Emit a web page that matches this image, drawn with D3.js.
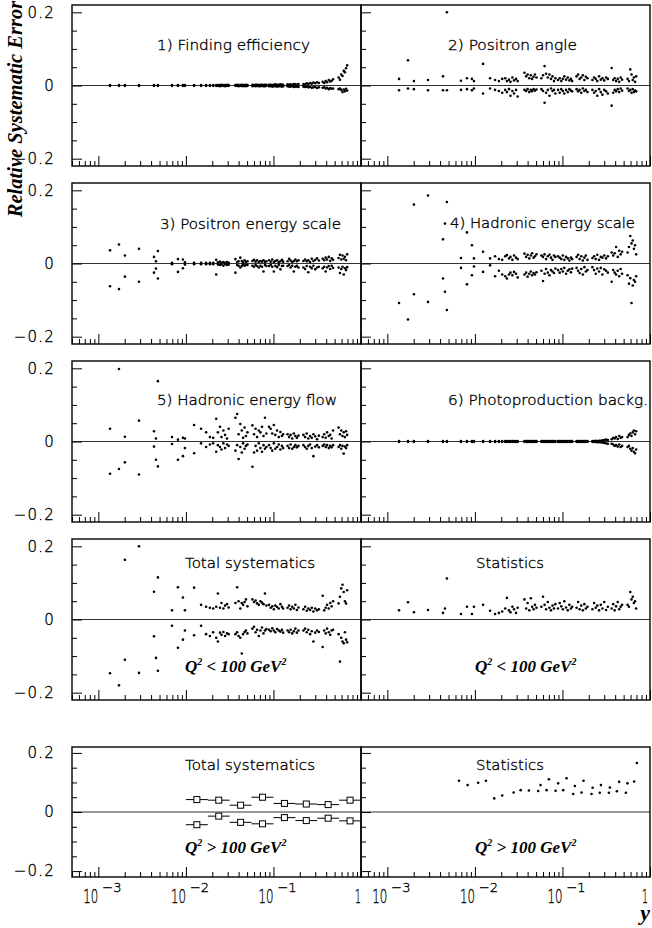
<!DOCTYPE html>
<html>
<head>
<meta charset="utf-8">
<script src="https://cdn.jsdelivr.net/npm/d3@7"></script>
<style>
  body { margin: 0; background: #fff; }
  svg { display: block; }
</style>
</head>
<body>
<svg id="chart" width="652" height="928"></svg>
<script>
// ---- y of each measurement bin (shared by the Q2 < 100 GeV2 panels) ----
const yBins = [
  0.00136, 0.00172, 0.00201, 0.00291, 0.00432, 0.00455, 0.00479, 0.00693,
  0.00811, 0.00925, 0.00975, 0.0124, 0.0149, 0.0170, 0.0188, 0.0205,
  0.0222, 0.0232, 0.0245, 0.0255, 0.0268, 0.0280, 0.0295, 0.0308,
  0.0368, 0.0385, 0.0400, 0.0418, 0.0435, 0.0450, 0.0468, 0.0485, 0.0505,
  0.0575, 0.0600, 0.0625, 0.0650, 0.0680, 0.0710, 0.0740, 0.0770, 0.0800, 0.0830,
  0.0890, 0.0930, 0.0970, 0.1010, 0.1050, 0.1100, 0.1150, 0.1200, 0.1250, 0.1290,
  0.1450, 0.1510, 0.1570, 0.1640, 0.1710, 0.1780, 0.1850, 0.1930,
  0.2200, 0.2300, 0.2400, 0.2500, 0.2620, 0.2740, 0.2860, 0.3000, 0.3150, 0.3300,
  0.3650, 0.3800, 0.3950, 0.4100, 0.4280, 0.4450, 0.4620, 0.4800,
  0.5550, 0.5750, 0.5950, 0.6150, 0.6350, 0.6550, 0.6750, 0.6950
];

// 1) Finding efficiency
const findingUp = [
  .001,.001,.001,.001,.001,null,.001,.001,.001,.001,.001,.001,.001,.001,.001,.001,
  .001,.001,.001,.002,.001,.001,.002,.001,
  .001,.002,.001,.001,.002,.001,.001,.002,.001,
  .002,.001,.002,.002,.001,.002,.002,.001,.002,.002,
  .002,.002,.001,.002,.003,.002,.002,.003,.002,.002,
  .003,.002,.003,.002,.004,.003,.002,.004,
  .004,.003,.006,.004,.007,.005,.008,.006,.009,.007,
  .010,.007,.012,.009,.015,.011,.013,.017,
  .022,.016,.030,.026,.040,.036,.047,.055
];
const findingDown = [
  -.001,-.001,-.001,-.001,-.001,null,-.001,-.001,-.001,-.001,-.001,-.001,-.001,-.001,-.001,-.001,
  -.001,-.001,-.002,-.001,-.001,-.002,-.001,-.001,
  -.001,-.001,-.002,-.001,-.001,-.002,-.001,-.002,-.001,
  -.002,-.001,-.002,-.001,-.002,-.002,-.001,-.002,-.002,-.001,
  -.002,-.002,-.003,-.002,-.002,-.003,-.002,-.002,-.003,-.002,
  -.002,-.003,-.003,-.002,-.004,-.003,-.003,-.004,
  -.003,-.004,-.003,-.005,-.004,-.006,-.005,-.004,-.007,-.005,
  -.006,-.005,-.008,-.006,-.010,-.007,-.009,-.008,
  -.010,-.008,-.012,-.018,-.011,-.016,-.009,-.014
];

// 2) Positron angle
const posAngleUp = [
  .018,.069,.012,.015,.025,null,.200,.013,.020,.018,.012,.059,.020,.015,.012,.018,
  .020,.012,.016,.010,.022,.014,.018,.012,
  .035,.025,.030,.020,.028,.018,.024,.030,.022,
  .020,.028,.053,.032,.022,.030,.018,.025,.012,.020,
  .015,.020,.012,.018,.025,.016,.022,.014,.018,.012,
  .025,.030,.018,.022,.028,.015,.024,.020,
  .015,.022,.018,.012,.025,.016,.020,.014,.022,.018,
  .048,.015,.020,.012,.018,.010,.022,.016,
  .018,.012,.044,.030,.015,.022,.010,.025
];
const posAngleDown = [
  -.013,-.008,-.010,-.013,-.013,null,-.013,-.012,-.010,-.013,-.008,-.022,-.008,-.012,-.015,-.020,
  -.012,-.018,-.010,-.028,-.015,-.022,-.012,-.030,
  -.012,-.015,-.010,-.018,-.012,-.016,-.010,-.014,-.011,
  -.010,-.015,-.047,-.020,-.012,-.028,-.008,-.015,-.012,-.022,
  -.012,-.020,-.010,-.015,-.022,-.012,-.018,-.010,-.014,-.016,
  -.010,-.016,-.012,-.020,-.008,-.015,-.012,-.018,
  -.012,-.020,-.015,-.028,-.010,-.018,-.025,-.012,-.016,-.022,
  -.055,-.020,-.012,-.016,-.010,-.018,-.008,-.014,
  -.008,-.015,-.012,-.020,-.010,-.018,-.014,-.016
];

// 3) Positron energy scale
const posEnergyUp = [
  .036,.052,.022,.040,.018,.006,.034,.002,.012,.011,.003,.002,.002,.002,.002,.002,
  .010,.003,.005,.002,.004,.002,.004,.002,
  .012,.004,.006,.016,.007,.003,.009,.004,.006,
  .007,.010,.005,.009,.004,.007,.005,.009,.004,.006,
  .009,.005,.011,.004,.007,.009,.003,.006,.010,.005,
  .006,.013,.008,.004,.007,.011,.006,.009,
  .007,.011,.006,.009,.004,.013,.007,.010,.014,.008,
  .013,.009,.016,.011,.018,.007,.014,.010,
  .015,.024,.011,.022,.013,.018,.009,.025
];
const posEnergyDown = [
  -.062,-.070,-.036,-.050,-.025,-.014,-.041,-.002,-.023,-.013,-.003,-.002,-.002,-.002,-.002,-.002,
  -.030,-.003,-.004,-.002,-.006,-.002,-.004,-.003,
  -.025,-.004,-.006,-.011,-.007,-.003,-.006,-.004,-.004,
  -.006,-.009,-.004,-.007,-.011,-.006,-.009,-.022,-.004,-.007,
  -.007,-.004,-.009,-.022,-.006,-.010,-.004,-.016,-.007,-.006,
  -.007,-.004,-.011,-.006,-.022,-.009,-.006,-.011,
  -.011,-.015,-.007,-.024,-.009,-.013,-.006,-.016,-.011,-.009,
  -.013,-.009,-.022,-.011,-.007,-.015,-.006,-.012,
  -.011,-.026,-.015,-.009,-.030,-.013,-.018,-.010
];

// 4) Hadronic energy scale
const hadScaleUp = [
  null,null,.161,.186,.066,.109,.168,.015,.085,.050,.014,.032,.014,.020,.012,.010,
  .020,.023,.014,.018,.010,.022,.016,.012,
  .027,.018,.024,.014,.022,.028,.016,.020,.025,
  .022,.018,.025,.012,.020,.024,.016,.010,.022,.018,
  .020,.016,.012,.022,.010,.018,.014,.008,.016,.012,
  .018,.024,.012,.020,.008,.016,.022,.010,
  .015,.020,.012,.024,.010,.018,.016,.022,.014,.020,
  .030,.022,.028,.045,.018,.035,.025,.032,
  .030,.045,.075,.055,.063,.040,.050,.025
];
const hadScaleDown = [
  -.108,-.153,-.084,-.105,-.041,-.077,-.127,-.012,-.057,-.032,-.008,-.023,-.005,-.035,-.020,-.030,
  -.035,-.041,-.030,-.025,-.032,-.023,-.028,-.038,
  -.030,-.025,-.036,-.028,-.022,-.032,-.026,-.030,-.024,
  -.020,-.048,-.028,-.015,-.025,-.032,-.018,-.022,-.026,-.014,
  -.018,-.025,-.015,-.022,-.012,-.028,-.020,-.016,-.024,-.014,
  -.012,-.020,-.026,-.015,-.030,-.010,-.022,-.018,
  -.010,-.018,-.028,-.014,-.022,-.012,-.030,-.016,-.020,-.025,
  -.050,-.018,-.025,-.030,-.020,-.035,-.015,-.028,
  -.032,-.055,-.040,-.108,-.060,-.045,-.050,-.035
];

// 5) Hadronic energy flow
const hadFlowUp = [
  .035,.198,.013,.057,.028,.008,.165,.012,.005,.010,.008,.045,.035,.025,.012,.010,
  .062,.025,.040,.012,.030,.018,.008,.035,
  .065,.075,.020,.048,.030,.010,.038,.015,.025,
  .044,.020,.035,.012,.030,.025,.040,.015,.065,.022,
  .040,.035,.022,.045,.018,.030,.012,.026,.015,.020,
  .020,.012,.018,.008,.022,.015,.010,.016,
  .018,.012,.022,.008,.015,.010,.020,.014,.006,.016,
  .012,.020,.010,.025,.015,.018,.008,.030,
  .038,.020,.030,.015,.025,.012,.028,.018
];
const hadFlowDown = [
  -.088,-.075,-.057,-.090,-.014,-.050,-.068,-.007,-.050,-.040,-.018,-.032,-.005,-.015,-.008,-.005,
  -.028,-.010,-.015,-.022,-.005,-.018,-.008,-.012,
  -.025,-.010,-.048,-.015,-.030,-.005,-.020,-.012,-.008,
  -.069,-.030,-.012,-.025,-.005,-.018,-.028,-.010,-.020,-.015,
  -.010,-.018,-.025,-.005,-.020,-.015,-.008,-.022,-.012,-.018,
  -.012,-.018,-.008,-.020,-.015,-.010,-.016,-.012,
  -.010,-.015,-.020,-.012,-.008,-.018,-.040,-.014,-.010,-.016,
  -.012,-.008,-.015,-.010,-.018,-.012,-.016,-.010,
  -.015,-.010,-.020,-.012,-.033,-.014,-.018,-.010
];

// 6) Photoproduction background
const photoUp = [
  .001,.001,.001,.001,.001,null,.001,.001,.001,.001,.001,.001,.001,.001,.001,.001,
  .001,.001,.001,.001,.001,.001,.001,.001,
  .001,.001,.001,.001,.001,.001,.001,.001,.001,
  .001,.001,.001,.001,.001,.001,.001,.001,.001,.001,
  .001,.001,.001,.001,.001,.001,.001,.001,.001,.001,
  .001,.001,.001,.001,.001,.001,.001,.001,
  .001,.001,.002,.001,.002,.002,.003,.004,.005,.004,
  .006,.010,.008,.012,.007,.015,.010,.012,
  .012,.018,.022,.015,.025,.030,.020,.028
];
const photoDown = [
  -.001,-.001,-.001,-.001,-.001,null,-.001,-.001,-.001,-.001,-.001,-.001,-.001,-.001,-.001,-.001,
  -.001,-.001,-.001,-.001,-.001,-.001,-.001,-.001,
  -.001,-.001,-.001,-.001,-.001,-.001,-.001,-.001,-.001,
  -.001,-.001,-.001,-.001,-.001,-.001,-.001,-.001,-.001,-.001,
  -.001,-.001,-.001,-.001,-.001,-.001,-.001,-.001,-.001,-.001,
  -.001,-.001,-.001,-.001,-.001,-.001,-.001,-.001,
  -.001,-.001,-.001,-.002,-.002,-.002,-.003,-.004,-.005,-.006,
  -.006,-.008,-.012,-.010,-.014,-.008,-.015,-.012,
  -.015,-.012,-.020,-.025,-.018,-.028,-.032,-.022
];

// Total systematics, Q2 < 100 GeV2
const totalLoUp = [
  null,null,.163,.200,.076,null,.115,.025,.088,.060,.025,.087,.040,.035,.032,.030,
  .035,.071,.032,.045,.030,.038,.042,.033,
  .045,.088,.050,.030,.045,.040,.048,.055,.036,
  .055,.048,.052,.044,.040,.050,.046,.042,.071,.038,
  .040,.032,.036,.028,.038,.034,.030,.042,.035,.030,
  .032,.038,.028,.035,.030,.040,.026,.033,
  .028,.035,.024,.030,.026,.032,.022,.030,.025,.028,
  .065,.025,.032,.040,.030,.045,.036,.050,
  .044,.062,.085,.095,.075,.050,.044,.080
];
const totalLoDown = [
  -.147,-.180,-.110,-.146,-.046,-.105,-.140,-.017,-.077,-.055,-.030,-.043,-.017,-.040,-.045,-.035,
  -.050,-.060,-.036,-.042,-.034,-.045,-.038,-.040,
  -.040,-.035,-.045,-.050,-.093,-.040,-.034,-.030,-.038,
  -.025,-.020,-.035,-.028,-.045,-.030,-.022,-.038,-.030,-.026,
  -.028,-.032,-.024,-.030,-.035,-.026,-.030,-.033,-.028,-.036,
  -.030,-.035,-.028,-.038,-.032,-.025,-.036,-.030,
  -.030,-.025,-.035,-.028,-.040,-.032,-.060,-.036,-.030,-.034,
  -.075,-.030,-.038,-.025,-.035,-.042,-.030,-.028,
  -.040,-.115,-.050,-.060,-.065,-.035,-.055,-.062
];

// Statistics, Q2 < 100 GeV2
const statLo = [
  .025,.047,.020,.026,.018,.030,.112,.015,.035,.015,.035,.040,.024,.015,.018,.022,
  .030,.059,.025,.020,.035,.028,.018,.032,
  .055,.030,.045,.025,.058,.035,.028,.040,.032,
  .035,.062,.040,.028,.048,.032,.025,.038,.030,.042,
  .030,.045,.036,.028,.050,.033,.025,.040,.030,.035,
  .032,.048,.028,.038,.025,.042,.030,.035,
  .028,.045,.032,.038,.025,.040,.030,.048,.026,.035,
  .030,.042,.025,.036,.048,.028,.035,.040,
  .040,.035,.075,.055,.062,.045,.050,.030
];

// Total systematics, Q2 > 100 GeV2 (quarter-decade bins in y)
const hiBinEdges = [0.01, 0.0178, 0.0316, 0.0562, 0.1, 0.178, 0.316, 0.562, 1.0];
const totalHiUp   = [0.042, 0.040, 0.023, 0.050, 0.029, 0.027, 0.025, 0.040];
const totalHiDown = [-0.043, -0.014, -0.035, -0.040, -0.019, -0.029, -0.021, -0.030];

// Statistics, Q2 > 100 GeV2
const statHiY = [
  0.00658, 0.00826, 0.0109, 0.01337, 0.01663, 0.0205, 0.0277, 0.0333, 0.0414,
  0.0528, 0.0562, 0.0659, 0.070, 0.0835, 0.0893, 0.102, 0.1114, 0.1327, 0.1387,
  0.1652, 0.174, 0.215, 0.221, 0.267, 0.275, 0.339, 0.348, 0.418, 0.444,
  0.530, 0.553, 0.659, 0.708
];
const statHiVal = [
  0.106, 0.091, 0.099, 0.106, 0.046, 0.056, 0.066, 0.074, 0.073,
  0.071, 0.091, 0.074, 0.111, 0.072, 0.097, 0.074, 0.114, 0.061, 0.088,
  0.066, 0.106, 0.061, 0.082, 0.065, 0.091, 0.065, 0.083, 0.070, 0.102,
  0.065, 0.097, 0.103, 0.166
];

// Axis ticks and labels
const yMajorTicks = [-0.2, 0, 0.2];
const yMinorTicks = [-0.15, -0.1, -0.05, 0.05, 0.1, 0.15];
const yTickLabels = ["\u22120.2", "0", "0.2"];
const xDecades = [0.001, 0.01, 0.1, 1];
const xLabelBase = ["10", "10", "10", "1"];
const xLabelExp = ["\u22123", "\u22122", "\u22121", ""];

// ---------------- drawing ----------------
const svg = d3.select("#chart");
const PW = 289;
const colX = [72, 361];
const rows = [
  { top: 5,   h: 161 },
  { top: 183, h: 161 },
  { top: 361, h: 161 },
  { top: 539, h: 161 },
  { top: 747, h: 130 }
];
const SANS = "'DejaVu Sans', sans-serif";
const SERIF = "'Liberation Serif', 'Times New Roman', serif";

// thin sans text, darkened with a hairline outline
function thinText(sel, size) {
  return sel.attr("font-family", SANS).attr("font-size", size).attr("font-weight", 200)
    .attr("fill", "#000").attr("stroke", "#000").attr("stroke-width", 0.35);
}

function pairsOf(ys, vals) {
  const out = [];
  vals.forEach((v, i) => { if (v !== null) out.push([ys[i], v]); });
  return out;
}

function makePanel(row, col) {
  const x0 = colX[col], r = rows[row];
  const x = d3.scaleLog().domain([5e-4, 1]).range([x0, x0 + PW]);
  const y = d3.scaleLinear().domain([-0.22, 0.22]).range([r.top + r.h, r.top]);
  const g = svg.append("g");

  // zero line
  g.append("line")
    .attr("x1", x0).attr("x2", x0 + PW)
    .attr("y1", y(0)).attr("y2", y(0))
    .attr("stroke", "#333").attr("stroke-width", 1);

  // y ticks, pointing inward from the left edge
  g.append("g").attr("transform", `translate(${x0},0)`)
    .call(d3.axisRight(y).tickValues(yMajorTicks).tickSize(10).tickFormat(""));
  g.append("g").attr("transform", `translate(${x0},0)`)
    .call(d3.axisRight(y).tickValues(yMinorTicks).tickSize(5).tickFormat(""));

  // x ticks, pointing up from the bottom edge
  const minorX = x.ticks().filter(t => !xDecades.some(d => Math.abs(d - t) / d < 1e-6));
  g.append("g").attr("transform", `translate(0,${r.top + r.h})`)
    .call(d3.axisTop(x).tickValues(xDecades).tickSize(10).tickFormat(""));
  g.append("g").attr("transform", `translate(0,${r.top + r.h})`)
    .call(d3.axisTop(x).tickValues(minorX).tickSize(5).tickFormat(""));

  g.selectAll(".domain").remove();
  g.selectAll(".tick line").attr("stroke", "#000").attr("stroke-width", 1);

  // frame
  g.append("rect")
    .attr("x", x0).attr("y", r.top).attr("width", PW).attr("height", r.h)
    .attr("fill", "none").attr("stroke", "#000").attr("stroke-width", 1.4);

  // y tick labels on the left column only
  if (col === 0) {
    thinText(g.append("g").selectAll("text").data(yMajorTicks).join("text"), 15)
      .attr("x", 55).attr("y", d => y(d))
      .attr("dy", "0.36em")
      .attr("text-anchor", "end")
      .attr("letter-spacing", 1.2)
      .text((d, i) => yTickLabels[i]);
  }

  // x tick labels on the bottom row only: base right-aligned on the tick,
  // exponent raised just after it, both in one text element
  if (row === rows.length - 1) {
    xDecades.forEach((d, i) => {
      const baseW = xLabelBase[i].length === 2 ? 15 : 6;
      const tx = Math.min(x(d), 648);
      const t = thinText(g.append("text"), 20)
        .attr("x", tx - baseW).attr("y", 903);
      t.append("tspan")
        .attr("textLength", baseW).attr("lengthAdjust", "spacingAndGlyphs")
        .text(xLabelBase[i]);
      if (xLabelExp[i]) {
        t.append("tspan")
          .attr("dx", 4).attr("dy", -11).attr("font-size", 13)
          .text(xLabelExp[i]);
      }
    });
  }
  return { g, x, y };
}

function drawDots(p, pts) {
  p.g.append("g").selectAll("circle").data(pts).join("circle")
    .attr("cx", d => p.x(d[0])).attr("cy", d => p.y(d[1]))
    .attr("r", 1.3).attr("fill", "#000");
}

function label(p, text, x, yb, len) {
  thinText(p.g.append("text"), 14.5)
    .attr("x", x).attr("y", yb)
    .attr("textLength", len).attr("lengthAdjust", "spacingAndGlyphs")
    .text(text);
}

function q2Label(p, x, yb, rel) {
  const t = p.g.append("text")
    .attr("x", x).attr("y", yb)
    .attr("font-family", SERIF).attr("font-size", 17)
    .attr("font-weight", "bold").attr("font-style", "italic");
  t.append("tspan").text("Q");
  t.append("tspan").attr("dy", -7).attr("font-size", 10).text("2");
  t.append("tspan").attr("dy", 7).text(" " + rel + " 100 GeV");
  t.append("tspan").attr("dy", -7).attr("font-size", 10).text("2");
}

// Row 1
let p = makePanel(0, 0);
drawDots(p, pairsOf(yBins, findingUp).concat(pairsOf(yBins, findingDown)));
label(p, "1) Finding efficiency", 157, 50, 153);

p = makePanel(0, 1);
drawDots(p, pairsOf(yBins, posAngleUp).concat(pairsOf(yBins, posAngleDown)));
label(p, "2) Positron angle", 448, 50, 129);

// Row 2
p = makePanel(1, 0);
drawDots(p, pairsOf(yBins, posEnergyUp).concat(pairsOf(yBins, posEnergyDown)));
label(p, "3) Positron energy scale", 160, 229, 181);

p = makePanel(1, 1);
drawDots(p, pairsOf(yBins, hadScaleUp).concat(pairsOf(yBins, hadScaleDown)));
label(p, "4) Hadronic energy scale", 450, 228, 185);

// Row 3
p = makePanel(2, 0);
drawDots(p, pairsOf(yBins, hadFlowUp).concat(pairsOf(yBins, hadFlowDown)));
label(p, "5) Hadronic energy flow", 157, 405, 180);

p = makePanel(2, 1);
drawDots(p, pairsOf(yBins, photoUp).concat(pairsOf(yBins, photoDown)));
label(p, "6) Photoproduction backg.", 448, 405, 200);

// Row 4: Q2 < 100
p = makePanel(3, 0);
drawDots(p, pairsOf(yBins, totalLoUp).concat(pairsOf(yBins, totalLoDown)));
label(p, "Total systematics", 185, 568, 130);
q2Label(p, 185, 672, "<");

p = makePanel(3, 1);
drawDots(p, pairsOf(yBins, statLo));
label(p, "Statistics", 476, 568, 68);
q2Label(p, 475, 672, "<");

// Row 5: Q2 > 100
p = makePanel(4, 0);
label(p, "Total systematics", 185, 770, 130);
q2Label(p, 185, 853, ">");
const hiBins = d3.range(hiBinEdges.length - 1).map(i => ({
  lo: hiBinEdges[i], hi: hiBinEdges[i + 1],
  c: Math.sqrt(hiBinEdges[i] * hiBinEdges[i + 1])
}));
[totalHiUp, totalHiDown].forEach(vals => {
  const gg = p.g.append("g");
  gg.selectAll("line").data(hiBins).join("line")
    .attr("x1", d => p.x(d.lo)).attr("x2", d => p.x(d.hi))
    .attr("y1", (d, i) => p.y(vals[i])).attr("y2", (d, i) => p.y(vals[i]))
    .attr("stroke", "#000").attr("stroke-width", 1);
  gg.selectAll("rect").data(hiBins).join("rect")
    .attr("x", d => p.x(d.c) - 3).attr("y", (d, i) => p.y(vals[i]) - 3)
    .attr("width", 6).attr("height", 6)
    .attr("fill", "#fff").attr("stroke", "#000").attr("stroke-width", 1);
});

p = makePanel(4, 1);
drawDots(p, statHiY.map((v, i) => [v, statHiVal[i]]));
label(p, "Statistics", 476, 770, 68);
q2Label(p, 475, 853, ">");

// Axis titles
svg.append("text")
  .attr("transform", "translate(22,109) rotate(-90)")
  .attr("text-anchor", "middle")
  .attr("font-family", SERIF).attr("font-size", 20.5)
  .attr("font-weight", "bold").attr("font-style", "italic")
  .text("Relative Systematic Error");

svg.append("text")
  .attr("x", 650).attr("y", 920)
  .attr("text-anchor", "end")
  .attr("font-family", SERIF).attr("font-size", 22)
  .attr("font-weight", "bold").attr("font-style", "italic")
  .text("y");
</script>
</body>
</html>
